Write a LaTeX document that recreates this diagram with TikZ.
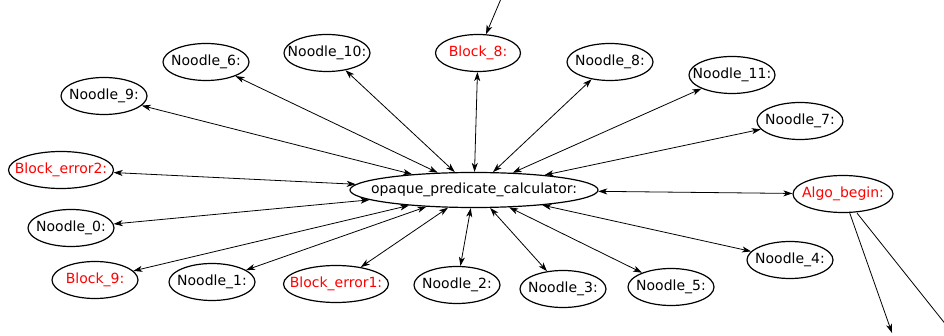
\documentclass[tikz,border=0pt]{standalone}
\usepackage{fontspec}
\setmainfont{DejaVu Sans}
\usetikzlibrary{shapes.geometric,arrows.meta}
\newcommand{\nlabel}[1]{\makebox[0pt]{#1}}
\begin{document}
\begin{tikzpicture}[x=1pt,y=-1pt,
  oval/.style={ellipse,draw,line width=1.2pt,inner sep=0pt,minimum height=37pt,minimum width=#1,
    font=\fontsize{14}{16}\selectfont},
  oval/.default=86pt,
  hot/.style={text=red},
  tip/.style={Stealth[length=9pt,width=6pt,inset=2.5pt]},
  link/.style={line width=0.8pt,{Stealth[length=9pt,width=6pt,inset=2.5pt]}-{Stealth[length=9pt,width=6pt,inset=2.5pt]}},
  oneway/.style={line width=0.8pt,-{Stealth[length=9pt,width=6pt,inset=2.5pt]}}]

\useasboundingbox (0,0) rectangle (944,336);
\clip (0,0) rectangle (944,336);

% centre
\node[oval=248pt,minimum height=35pt] (calc) at (474,190) {\nlabel{opaque\_predicate\_calculator:}};

% top row
\node[oval] (n9) at (104,96) {\nlabel{Noodle\_9:}};
\node[oval] (n6) at (206,62) {\nlabel{Noodle\_6:}};
\node[oval] (n10) at (327,53) {\nlabel{Noodle\_10:}};
\node[oval=85pt,hot] (b8) at (478,53) {\nlabel{Block\_8:}};
\node[oval] (n8) at (610,62) {\nlabel{Noodle\_8:}};
\node[oval] (n11) at (732,75) {\nlabel{Noodle\_11:}};
\node[oval] (n7) at (800,121) {\nlabel{Noodle\_7:}};

% left side
\node[oval=105pt,hot] (be2) at (61,170) {\nlabel{Block\_error2:}};
\node[oval] (n0) at (71,228) {\nlabel{Noodle\_0:}};

% bottom row
\node[oval,hot] (b9) at (95,280) {\nlabel{Block\_9:}};
\node[oval] (n1) at (212,282) {\nlabel{Noodle\_1:}};
\node[oval=105pt,hot] (be1) at (336,284) {\nlabel{Block\_error1:}};
\node[oval] (n2) at (457,285) {\nlabel{Noodle\_2:}};
\node[oval] (n3) at (563,289) {\nlabel{Noodle\_3:}};
\node[oval] (n5) at (671,287) {\nlabel{Noodle\_5:}};
\node[oval] (n4) at (790,260) {\nlabel{Noodle\_4:}};

% right side
\node[oval=100pt,hot] (algo) at (843,194) {\nlabel{Algo\_begin:}};

% loose ends outside the frame
\coordinate (top) at (509,-20);
\coordinate (down1) at (892,333);
\coordinate (down2) at (990,380);

\foreach \n in {n9,n6,n10,b8,n8,n11,n7,be2,n0,b9,n1,be1,n2,n3,n5,n4,algo}
  \draw[link] (calc) -- (\n);

\draw[oneway] (top) -- (b8);
\draw[oneway] (algo) -- (down1);
\draw[oneway] (algo.south) ++(14,0) coordinate (algoout) (algoout) -- (down2);

\end{tikzpicture}
\end{document}
